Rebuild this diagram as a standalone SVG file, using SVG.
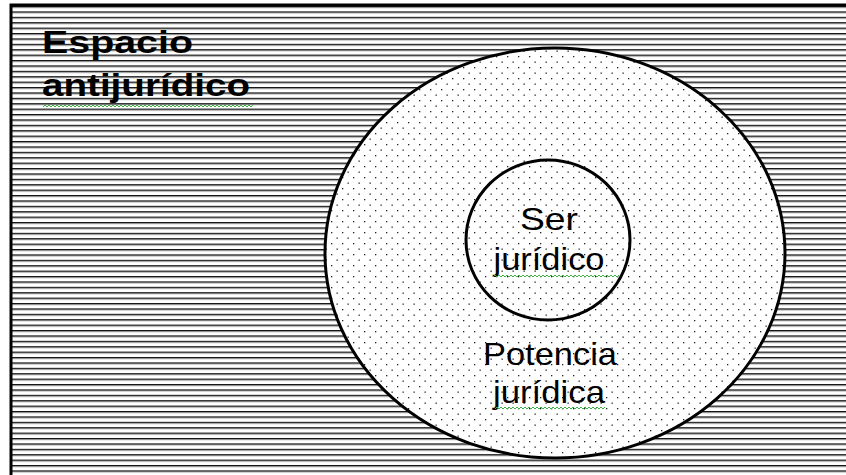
<svg xmlns="http://www.w3.org/2000/svg" width="846" height="475" viewBox="0 0 846 475">
<defs>
<pattern id="hlines" patternUnits="userSpaceOnUse" x="0" y="6" width="20" height="5.4">
<rect x="0" y="0" width="20" height="1" fill="#111"/>
<rect x="0" y="1" width="20" height="1" fill="#777"/>
</pattern>
<pattern id="dots" patternUnits="userSpaceOnUse" x="0" y="0" width="11" height="11">
<rect x="1" y="1" width="1.3" height="1.3" fill="#222"/>
<rect x="6.5" y="6.5" width="1.3" height="1.3" fill="#222"/>
</pattern>
<style>
.t{font-family:"Liberation Sans",Arial,sans-serif;font-size:32px;fill:#000}
.b{font-weight:bold}
.sq{fill:none;stroke:#3cb043;stroke-width:1}
</style>
</defs>
<rect width="846" height="475" fill="#fff"/>
<g id="espacio">
<rect x="11" y="5" width="850" height="480" fill="url(#hlines)" stroke="#000" stroke-width="3"/>
<text class="t b" x="42" y="53" textLength="151" lengthAdjust="spacingAndGlyphs">Espacio</text>
<text class="t b" x="42" y="96" textLength="208" lengthAdjust="spacingAndGlyphs">antijurídico</text>
<path class="sq" d="M43 107 l2 -2 l2 2 l2 -2 l2 2 l2 -2 l2 2 l2 -2 l2 2 l2 -2 l2 2 l2 -2 l2 2 l2 -2 l2 2 l2 -2 l2 2 l2 -2 l2 2 l2 -2 l2 2 l2 -2 l2 2 l2 -2 l2 2 l2 -2 l2 2 l2 -2 l2 2 l2 -2 l2 2 l2 -2 l2 2 l2 -2 l2 2 l2 -2 l2 2 l2 -2 l2 2 l2 -2 l2 2 l2 -2 l2 2 l2 -2 l2 2 l2 -2 l2 2 l2 -2 l2 2 l2 -2 l2 2 l2 -2 l2 2 l2 -2 l2 2 l2 -2 l2 2 l2 -2 l2 2 l2 -2 l2 2 l2 -2 l2 2 l2 -2 l2 2 l2 -2 l2 2 l2 -2 l2 2 l2 -2 l2 2 l2 -2 l2 2 l2 -2 l2 2 l2 -2 l2 2 l2 -2 l2 2 l2 -2 l2 2 l2 -2 l2 2 l2 -2 l2 2 l2 -2 l2 2 l2 -2 l2 2 l2 -2 l2 2 l2 -2 l2 2 l2 -2 l2 2 l2 -2 l2 2 l2 -2 l2 2 l2 -2 l2 2 l2 -2 l2 2 l2 -2 l2 2 l2 -2"/>
</g>
<g id="potencia">
<ellipse cx="555" cy="253" rx="230" ry="205" fill="#fff"/>
<ellipse cx="555" cy="253" rx="230" ry="205" fill="url(#dots)" stroke="#000" stroke-width="3"/>
<text class="t" x="550" y="365" text-anchor="middle" textLength="134" lengthAdjust="spacingAndGlyphs">Potencia</text>
<text class="t" x="549" y="403" text-anchor="middle" textLength="112" lengthAdjust="spacingAndGlyphs">jurídica</text>
<path class="sq" d="M495 409 l2 -2 l2 2 l2 -2 l2 2 l2 -2 l2 2 l2 -2 l2 2 l2 -2 l2 2 l2 -2 l2 2 l2 -2 l2 2 l2 -2 l2 2 l2 -2 l2 2 l2 -2 l2 2 l2 -2 l2 2 l2 -2 l2 2 l2 -2 l2 2 l2 -2 l2 2 l2 -2 l2 2 l2 -2 l2 2 l2 -2 l2 2 l2 -2 l2 2 l2 -2 l2 2 l2 -2 l2 2 l2 -2 l2 2 l2 -2 l2 2 l2 -2 l2 2 l2 -2 l2 2 l2 -2 l2 2 l2 -2 l2 2 l2 -2 l2 2 l2 -2"/>
</g>
<g id="ser">
<ellipse cx="548" cy="240" rx="82" ry="80" fill="none" stroke="#000" stroke-width="3"/>
<text class="t" x="549" y="230" text-anchor="middle" textLength="58" lengthAdjust="spacingAndGlyphs">Ser</text>
<text class="t" x="549" y="270" text-anchor="middle" textLength="111" lengthAdjust="spacingAndGlyphs">jurídico</text>
<path class="sq" d="M493 277 l2 -2 l2 2 l2 -2 l2 2 l2 -2 l2 2 l2 -2 l2 2 l2 -2 l2 2 l2 -2 l2 2 l2 -2 l2 2 l2 -2 l2 2 l2 -2 l2 2 l2 -2 l2 2 l2 -2 l2 2 l2 -2 l2 2 l2 -2 l2 2 l2 -2 l2 2 l2 -2 l2 2 l2 -2 l2 2 l2 -2 l2 2 l2 -2 l2 2 l2 -2 l2 2 l2 -2 l2 2 l2 -2 l2 2 l2 -2 l2 2 l2 -2 l2 2 l2 -2 l2 2 l2 -2 l2 2 l2 -2 l2 2 l2 -2 l2 2 l2 -2 l2 2 l2 -2 l2 2 l2 -2 l2 2 l2 -2 l2 2 l2 -2"/>
</g>
<g id="connectors"/>
</svg>
